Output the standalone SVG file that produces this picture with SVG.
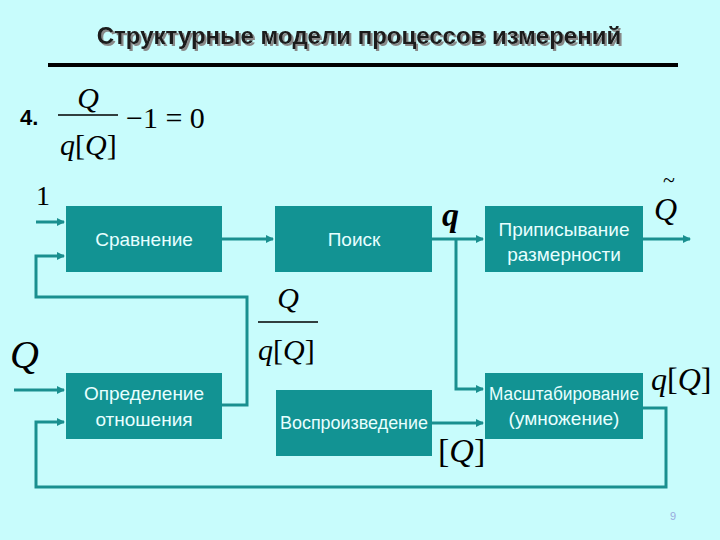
<svg xmlns="http://www.w3.org/2000/svg" width="720" height="540" viewBox="0 0 720 540">
<style>
.b{fill:#129393}
.t{font-family:"Liberation Sans",Arial,sans-serif;font-size:19px;fill:#e8ffff;text-anchor:middle}
.m{font-family:"Liberation Serif","Times New Roman",serif;font-style:italic;fill:#000}
.r{font-family:"Liberation Serif","Times New Roman",serif;font-style:normal;fill:#000}
.c{fill:none;stroke:#1a8f8f;stroke-width:3}
</style>
<defs><marker id="a" markerWidth="8" markerHeight="8" refX="7" refY="4" orient="auto" markerUnits="userSpaceOnUse" viewBox="0 0 8 8"><path d="M0,0L8,4L0,8z" fill="#1a8f8f"/></marker>
<filter id="sh"><feDropShadow dx="2" dy="2" stdDeviation="0.5" flood-color="#888"/></filter></defs>
<rect width="720" height="540" fill="#c8fcfc"/>
<text x="359" y="44" text-anchor="middle" font-family="Liberation Sans,Arial,sans-serif" font-size="24" font-weight="bold" fill="#1a1a1a" filter="url(#sh)">Структурные модели процессов измерений</text>
<rect x="48" y="63" width="630" height="4" fill="#000"/>
<text x="20" y="125" font-family="Liberation Sans,Arial,sans-serif" font-size="22" font-weight="bold">4.</text>
<text x="88" y="108" class="m" font-size="30" text-anchor="middle">Q</text>
<line x1="58" y1="115" x2="118" y2="115" stroke="#000" stroke-width="1.5"/>
<text x="60" y="155" class="m" font-size="30">q<tspan class="r">[</tspan>Q<tspan class="r">]</tspan></text>
<text x="126" y="128" class="r" font-size="30">−1 = 0</text>
<text x="36" y="205" class="r" font-size="28">1</text>
<text x="10" y="368" class="m" font-size="40">Q</text>
<text x="288" y="308" class="m" font-size="30" text-anchor="middle">Q</text>
<line x1="258" y1="322" x2="318" y2="322" stroke="#000" stroke-width="1.5"/>
<text x="258" y="360" class="m" font-size="30">q<tspan class="r">[</tspan>Q<tspan class="r">]</tspan></text>
<text x="442" y="226" class="m" font-size="34" font-weight="bold">q</text>
<text x="654" y="220" class="m" font-size="32">Q</text>
<text x="663" y="187" class="r" font-size="22">~</text>
<text x="651" y="390" class="m" font-size="32">q<tspan class="r">[</tspan>Q<tspan class="r">]</tspan></text>
<text x="438" y="462" class="m" font-size="34"><tspan class="r">[</tspan>Q<tspan class="r">]</tspan></text>
<g id="connectors">
<path class="c" d="M36,222H64" marker-end="url(#a)"/>
<path class="c" d="M222,405H247V297H36V256H64" marker-end="url(#a)"/>
<path class="c" d="M14,390H64" marker-end="url(#a)"/>
<path class="c" d="M643,408H666V487H36V422H64" marker-end="url(#a)"/>
<path class="c" d="M222,239H273" marker-end="url(#a)"/>
<path class="c" d="M432,239H483" marker-end="url(#a)"/>
<path class="c" d="M456,239V389H483" marker-end="url(#a)"/>
<path class="c" d="M432,423H483" marker-end="url(#a)"/>
<path class="c" d="M643,239H690" marker-end="url(#a)"/>
</g>
<g id="n1"><rect class="b" x="66" y="206" width="156" height="66"/><text class="t" x="144" y="246">Сравнение</text></g>
<g id="n2"><rect class="b" x="275" y="206" width="157" height="66"/><text class="t" x="354" y="246">Поиск</text></g>
<g id="n3"><rect class="b" x="485" y="206" width="158" height="66"/><text class="t" x="564" y="236">Приписывание</text><text class="t" x="564" y="261">размерности</text></g>
<g id="n4"><rect class="b" x="66" y="373" width="156" height="66"/><text class="t" x="144" y="400">Определение</text><text class="t" x="144" y="426">отношения</text></g>
<g id="n5"><rect class="b" x="276" y="390" width="156" height="66"/><text class="t" x="354" y="429" font-size="16" textLength="148" lengthAdjust="spacingAndGlyphs">Воспроизведение</text></g>
<g id="n6"><rect class="b" x="485" y="373" width="158" height="66"/><text class="t" x="564" y="400" font-size="16" textLength="150" lengthAdjust="spacingAndGlyphs">Масштабирование</text><text class="t" x="564" y="425">(умножение)</text></g>
<text x="673" y="520" font-family="Liberation Sans,Arial,sans-serif" font-size="11" fill="#9ad" text-anchor="middle">9</text>
</svg>
